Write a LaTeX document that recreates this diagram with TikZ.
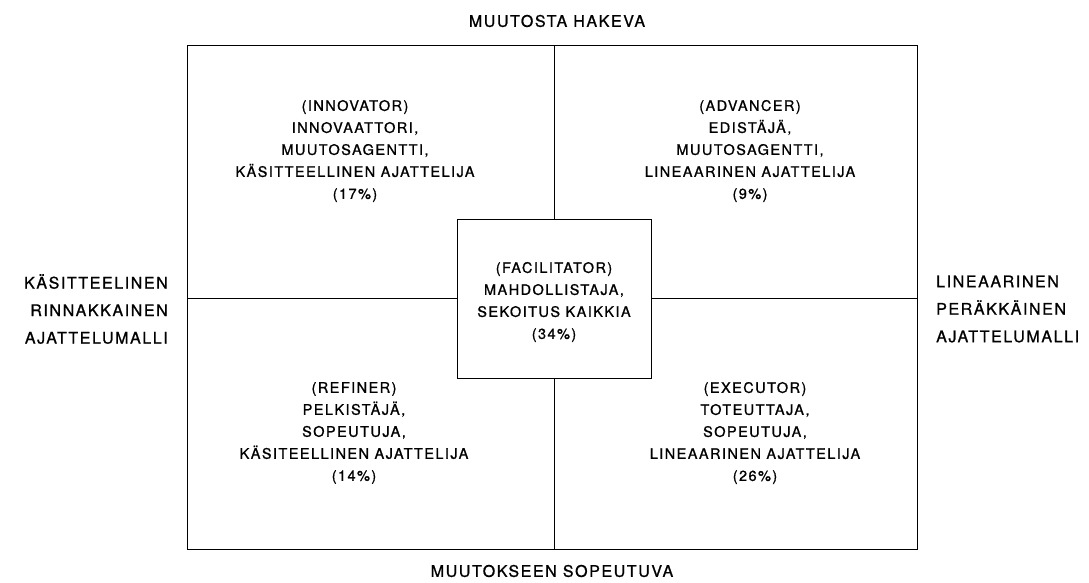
\documentclass[tikz,border=0pt]{standalone}
\usepackage{fontspec}
\setmainfont{TeX Gyre Heros}[LetterSpace=10,FakeBold=1]
\begin{document}
\begin{tikzpicture}[x=1pt,y=-1pt,
  frameline/.style={draw=black,line width=0.7pt},
  divider/.style={draw=black,line width=1pt},
  celltext/.style={align=center,inner sep=0pt,font=\fontsize{14.5}{22}\selectfont},
  sidetext/.style={inner sep=0pt,font=\fontsize{16}{27.5}\selectfont},
]
\useasboundingbox (0,0) rectangle (1089,582);

% outer frame and central box
\node[frameline,minimum width=730,minimum height=504,inner sep=0pt,outer sep=0pt,anchor=north west] (frame) at (187,45) {};
\node[frameline,minimum width=194,minimum height=159,inner sep=0pt,outer sep=0pt] (box) at (554,298.5) {};

% dividers between the quadrants
\draw[divider] (box.north) -- (box.north |- frame.north);
\draw[divider] (box.south) -- (box.south |- frame.south);
\draw[divider] (box.west) -- (box.west -| frame.west);
\draw[divider] (box.east) -- (box.east -| frame.east);

% quadrant texts
\node[celltext] (innovator) at (355,151) {(INNOVATOR)\\INNOVAATTORI,\\MUUTOSAGENTTI,\\KÄSITTEELLINEN AJATTELIJA\\(17\%)};
\node[celltext] (advancer) at (750,151) {(ADVANCER)\\EDISTÄJÄ,\\MUUTOSAGENTTI,\\LINEAARINEN AJATTELIJA\\(9\%)};
\node[celltext] (refiner) at (354,433) {(REFINER)\\PELKISTÄJÄ,\\SOPEUTUJA,\\KÄSITEELLINEN AJATTELIJA\\(14\%)};
\node[celltext] (executor) at (755,433) {(EXECUTOR)\\TOTEUTTAJA,\\SOPEUTUJA,\\LINEAARINEN AJATTELIJA\\(26\%)};
\node[celltext] (facilitator) at (554,302) {(FACILITATOR)\\MAHDOLLISTAJA,\\SEKOITUS KAIKKIA\\(34\%)};

% axis labels
\node[sidetext] (top) at (557,21) {MUUTOSTA HAKEVA};
\node[sidetext] (bottom) at (552,571) {MUUTOKSEEN SOPEUTUVA};
\node[sidetext,align=right,anchor=east] (left) at (168,309) {KÄSITTEELINEN\\RINNAKKAINEN\\AJATTELUMALLI};
\node[sidetext,align=left,anchor=west] (right) at (936,309) {LINEAARINEN\\PERÄKKÄINEN\\AJATTELUMALLI};
\end{tikzpicture}
\end{document}
